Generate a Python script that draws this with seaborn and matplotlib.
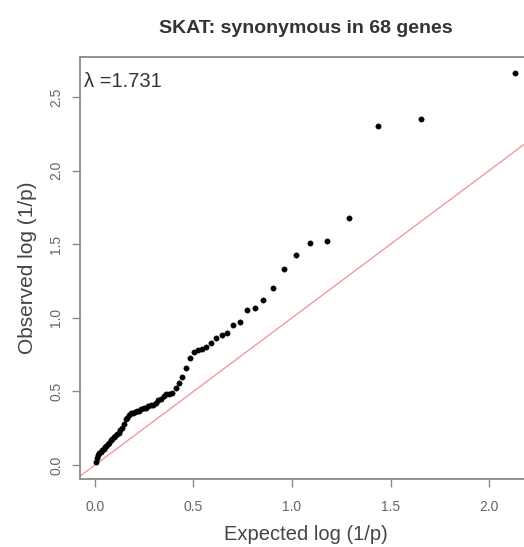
import matplotlib
matplotlib.use("Agg")
import matplotlib.pyplot as plt
import seaborn as sns
import pandas as pd

# Expected -log10(p)
expected = [2.1335, 1.6564, 1.4346, 1.2884, 1.1793, 1.0921, 1.0196, 0.9574, 0.9031, 0.8548,
            0.8113, 0.7718, 0.7356, 0.7022, 0.6711, 0.6422, 0.6150, 0.5895, 0.5653, 0.5425,
            0.5208, 0.5001, 0.4804, 0.4614, 0.4433, 0.4260, 0.4093, 0.3932, 0.3777, 0.3627,
            0.3482, 0.3342, 0.3206, 0.3074, 0.2946, 0.2823, 0.2702, 0.2585, 0.2470, 0.2359,
            0.2251, 0.2145, 0.2041, 0.1940, 0.1842, 0.1745, 0.1650, 0.1558, 0.1468, 0.1379,
            0.1292, 0.1207, 0.1123, 0.1041, 0.0961, 0.0882, 0.0805, 0.0729, 0.0654, 0.0580,
            0.0507, 0.0436, 0.0366, 0.0297, 0.0229, 0.0163, 0.0097, 0.0032]
# Observed -log10(p)
observed = [2.66, 2.35, 2.30, 1.68, 1.52, 1.51, 1.43, 1.33, 1.20, 1.12,
            1.07, 1.05, 0.97, 0.95, 0.90, 0.88, 0.86, 0.83, 0.80, 0.79,
            0.78, 0.77, 0.73, 0.66, 0.60, 0.56, 0.52, 0.49, 0.485, 0.48,
            0.47, 0.45, 0.44, 0.42, 0.41, 0.41, 0.40, 0.39, 0.385, 0.38,
            0.37, 0.365, 0.36, 0.355, 0.35, 0.34, 0.32, 0.31, 0.28, 0.25,
            0.24, 0.22, 0.21, 0.20, 0.19, 0.18, 0.17, 0.15, 0.14, 0.13,
            0.12, 0.11, 0.10, 0.09, 0.08, 0.07, 0.05, 0.02]
x_ticks = [0.0, 0.5, 1.0, 1.5, 2.0]
y_ticks = [0.0, 0.5, 1.0, 1.5, 2.0, 2.5]
title = "SKAT: synonymous in 68 genes"
lambda_text = "λ =1.731"

sns.set_style("white")
plt.rcParams['font.family'] = ['Liberation Sans', 'DejaVu Sans']

df = pd.DataFrame({"expected": expected, "observed": observed})

fig = plt.figure(figsize=(5.24, 5.47), dpi=100)
W, H = 524, 547
left, right, top, bottom = 80, 532, 57, 479
ax = fig.add_axes([left / W, 1 - bottom / H, (right - left) / W, (bottom - top) / H])

ax.axline((0, 0), slope=1, color="#f29a9a", lw=1.0, zorder=1)
sns.scatterplot(data=df, x="expected", y="observed", ax=ax, color="black",
                s=15, edgecolor="black", linewidth=0.3, zorder=3)

ax.set_xlim(-0.076, 2.218)
ax.set_ylim(-0.095, 2.772)
ax.set_xticks(x_ticks)
ax.set_yticks(y_ticks)
ax.set_xticklabels([f"{v:.1f}" for v in x_ticks])
ax.set_yticklabels([f"{v:.1f}" for v in y_ticks], rotation=90, va="center")

for sp in ax.spines.values():
    sp.set_color("#8a8a8a")
    sp.set_linewidth(1.3)
ax.tick_params(axis="both", direction="out", length=6, width=1.0, color="#8a8a8a",
               labelsize=10, labelcolor="#666666", bottom=True, left=True)
ax.tick_params(axis="x", pad=9)
ax.tick_params(axis="y", pad=6)

ax.set_xlabel("Expected log (1/p)", fontsize=14.5, color="#444444", labelpad=8)
ax.set_ylabel("Observed log (1/p)", fontsize=15, color="#444444", labelpad=9)
ax.set_title(title, fontsize=14, fontweight="bold", color="#333333", pad=17)
ax.text(0.008, 0.943, lambda_text, transform=ax.transAxes, fontsize=14.5,
        color="#333333", ha="left", va="center")

fig.savefig("out.png", dpi=100)
